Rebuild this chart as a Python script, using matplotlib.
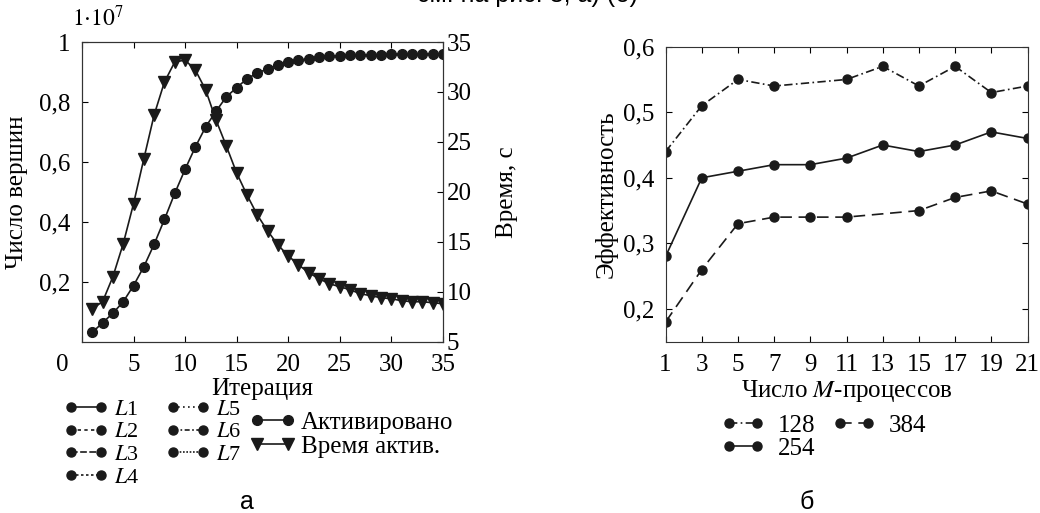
import numpy as np
import matplotlib
matplotlib.use("Agg")
import matplotlib.pyplot as plt
from matplotlib.transforms import ScaledTranslation
from matplotlib.legend_handler import HandlerLine2D

plt.rcParams['font.family'] = ['Liberation Serif', 'DejaVu Serif']
plt.rcParams['mathtext.fontset'] = 'stix'
plt.rcParams['legend.numpoints'] = 2

# --- panel a: iterations ---
iters = list(range(1, 36))
# activated vertices, in units of 1e7
activated = [0.031, 0.063, 0.095, 0.133, 0.187, 0.250, 0.325, 0.408, 0.495, 0.575,
             0.650, 0.717, 0.769, 0.817, 0.848, 0.877, 0.897, 0.910, 0.923, 0.933,
             0.939, 0.945, 0.949, 0.952, 0.955, 0.956, 0.957, 0.958, 0.958, 0.959,
             0.959, 0.960, 0.960, 0.960, 0.960]
# activation time, s
act_time = [8.3, 9.0, 11.5, 14.8, 18.8, 23.3, 27.7, 31.0, 33.0, 33.2,
            32.2, 30.2, 27.2, 24.6, 21.9, 19.7, 17.7, 16.1, 14.7, 13.6,
            12.7, 11.9, 11.3, 10.8, 10.5, 10.2, 9.8, 9.6, 9.4, 9.3,
            9.1, 9.0, 9.0, 8.9, 8.8]
level_names = ['$L$1', '$L$2', '$L$3', '$L$4', '$L$5', '$L$6', '$L$7']
level_styles = ['-', (0, (2, 2)), (0, (4, 1.5)), (0, (1.5, 1.5)), (0, (1, 2)), (0, (3, 1.5, 1, 1.5)), (0, (1, 1))]

# --- panel b: efficiency vs number of M-processes ---
m_128 = [1, 3, 5, 7, 11, 13, 15, 17, 19, 21]
eff_128 = [0.44, 0.51, 0.55, 0.54, 0.55, 0.57, 0.54, 0.57, 0.53, 0.54]
m_254 = [1, 3, 5, 7, 9, 11, 13, 15, 17, 19, 21]
eff_254 = [0.28, 0.40, 0.41, 0.42, 0.42, 0.43, 0.45, 0.44, 0.45, 0.47, 0.46]
m_384 = [1, 3, 5, 7, 9, 11, 15, 17, 19, 21]
eff_384 = [0.18, 0.26, 0.33, 0.34, 0.34, 0.34, 0.35, 0.37, 0.38, 0.36]

fs = 18
ink = '#1a1a1a'
hmap = {matplotlib.lines.Line2D: HandlerLine2D(marker_pad=0, numpoints=2)}
fig = plt.figure(figsize=(10.4, 5.13), dpi=100)

ax = fig.add_axes([0.0788, 0.334, 0.347, 0.584])
ax2 = ax.twinx()

l_act, = ax.plot(iters, activated, '-', color=ink, lw=1.2, marker='o', ms=7)
l_time, = ax2.plot(iters, act_time, '-', color=ink, lw=1.2, marker='v', ms=8.5)

ax.set_xlim(0, 35)
ax.set_ylim(0, 1)
ax2.set_ylim(5, 35)
ax.set_xticks(range(0, 36, 5))
ax.set_yticks([0.2, 0.4, 0.6, 0.8, 1.0])
ax.set_yticklabels(['0,2', '0,4', '0,6', '0,8', '1'])
ax2.set_yticks(range(5, 36, 5))
ax.tick_params(axis='x', direction='in', length=4, labelsize=fs, top=True, pad=9)
ax.tick_params(axis='y', direction='in', length=4, labelsize=fs, pad=8)
ax2.tick_params(direction='in', length=4, labelsize=fs, pad=3)
ax.set_xlabel('Итерация', fontsize=fs, labelpad=1)
ax.set_ylabel('Число вершин', fontsize=fs, labelpad=8)
ax2.set_ylabel('Время, с', fontsize=fs, labelpad=17)
ax.text(0.044, 1.035, r'$1{\cdot}10^7$', transform=ax.transAxes, fontsize=17, ha='center', va='bottom')

# shift the "0" label to the left like in the original
t0 = ax.xaxis.get_major_ticks()[0]
t0.label1.set_transform(t0.label1.get_transform() + ScaledTranslation(-0.2, 0, fig.dpi_scale_trans))

for a in (ax, ax2):
    for s in a.spines.values():
        s.set_color('#333333')

lvl_handles = []
for name, st in zip(level_names, level_styles):
    h, = ax.plot([], [], linestyle=st, color=ink, lw=1.2, marker='o', ms=6.5)
    lvl_handles.append(h)
fig.legend(lvl_handles, level_names, loc='upper left', bbox_to_anchor=(0.068, 0.222),
           ncol=2, frameon=False, fontsize=16, handlelength=1.35, handletextpad=0.6,
           columnspacing=1.5, labelspacing=0.1, borderpad=0, borderaxespad=0, handler_map=hmap)
fig.legend([l_act, l_time], ['Активировано', 'Время актив.'], loc='upper left',
           bbox_to_anchor=(0.247, 0.198), frameon=False, fontsize=fs, handlelength=1.25,
           handletextpad=0.5, labelspacing=0.05, borderpad=0, borderaxespad=0, handler_map=hmap)

# --- panel b ---
bx = fig.add_axes([0.640, 0.334, 0.348, 0.575])
h128, = bx.plot(m_128, eff_128, linestyle=(0, (5, 2, 1, 2)), color=ink, lw=1.2, marker='o', ms=6.5)
h254, = bx.plot(m_254, eff_254, '-', color=ink, lw=1.2, marker='o', ms=6.5)
h384, = bx.plot(m_384, eff_384, linestyle=(0, (7, 4)), color=ink, lw=1.2, marker='o', ms=6.5)
bx.set_xlim(1, 21)
bx.set_ylim(0.15, 0.6)
bx.set_xticks(range(1, 22, 2))
bx.set_yticks([0.2, 0.3, 0.4, 0.5, 0.6])
bx.set_yticklabels(['0,2', '0,3', '0,4', '0,5', '0,6'])
bx.tick_params(axis='x', direction='in', length=4, labelsize=fs, top=True, pad=9)
bx.tick_params(axis='y', direction='in', length=4, labelsize=fs, right=True, pad=8)
bx.set_xlabel('Число $M$-процессов', fontsize=fs, labelpad=1)
bx.set_ylabel('Эффективность', fontsize=fs, labelpad=4)
for s in bx.spines.values():
    s.set_color('#333333')

fig.legend([h128, h254, h384], ['128', '254', '384'], loc='upper left',
           bbox_to_anchor=(0.701, 0.192), ncol=2, frameon=False, fontsize=fs,
           handlelength=1.1, handletextpad=0.85, columnspacing=1.0, labelspacing=0.0,
           borderpad=0, borderaxespad=0, handler_map=hmap)

fig.text(0.237, 0.008, 'а', fontsize=fs, family='Liberation Sans', ha='center', va='baseline')
fig.text(0.776, 0.008, 'б', fontsize=fs, family='Liberation Sans', ha='center', va='baseline')
fig.text(0.507, 0.997, 'см. на рис. 3, а) (б)', fontsize=fs, family='Liberation Sans',
         ha='center', va='baseline')

fig.savefig('out.png', dpi=100)
